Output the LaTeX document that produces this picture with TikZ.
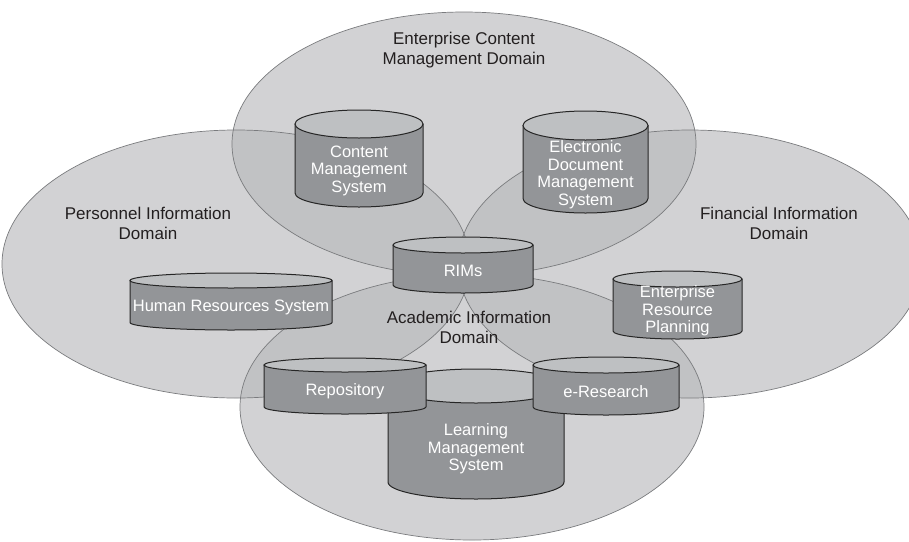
\documentclass[tikz,border=0pt]{standalone}
\usepackage{fontspec}
\setmainfont{Liberation Sans}

\definecolor{domainfill}{HTML}{B8B9BB}
\definecolor{domainline}{HTML}{7A7B7E}
\definecolor{dbbodyfill}{HTML}{939598}
\definecolor{dbcapfill}{HTML}{BEC0C2}
\definecolor{labeltext}{HTML}{231F20}

\tikzset{
  domainarea/.style={fill=domainfill, fill opacity=0.64},
  domainedge/.style={draw=domainline, line width=0.7pt},
  domainlabel/.style={align=center, text=labeltext, inner sep=0pt, font=\fontsize{17}{20}\selectfont},
  dbbody/.style={draw=black!85, fill=dbbodyfill, line width=1pt, line join=round},
  dbcap/.style={draw=black!85, fill=dbcapfill, line width=1pt},
  dbtext/.style={align=center, text=white, inner sep=0pt, font=\fontsize{16.5}{17.5}\selectfont}
}

% name, centre x, top y, width, height, cap radius, text
\newcommand{\dbsystem}[7]{%
  \filldraw[dbbody] ({#2-#4/2},{#3+#6}) -- ({#2-#4/2},{#3+#5-#6})
    arc[start angle=180, end angle=360, x radius={#4/2*1pt}, y radius={#6*1pt}]
    -- ({#2+#4/2},{#3+#6}) -- cycle;
  \filldraw[dbcap] (#2,{#3+#6}) ellipse [x radius={#4/2*1pt}, y radius={#6*1pt}];
  \node[dbtext] (#1) at (#2,{#3+#6+#5/2-2}) {#7};
}

\begin{document}
\begin{tikzpicture}[x=1pt, y=-1pt]
\useasboundingbox (0,0) rectangle (909,541);
% domains
\foreach \cx/\cy/\rx/\ry in {464/144/232/132, 236/264/234/134, 690/264/232/134, 472/407/232/133}
  \fill[domainarea] (\cx,\cy) ellipse [x radius=\rx pt, y radius=\ry pt];
\foreach \cx/\cy/\rx/\ry in {464/144/232/132, 236/264/234/134, 690/264/232/134, 472/407/232/133}
  \draw[domainedge] (\cx,\cy) ellipse [x radius=\rx pt, y radius=\ry pt];

\node[domainlabel] (ecmdomain) at (464,50) {Enterprise Content\\Management Domain};
\node[domainlabel] (pidomain) at (148,223) {Personnel Information\\Domain};
\node[domainlabel] (fidomain) at (779,223) {Financial Information\\Domain};
\node[domainlabel] (aidomain) at (469,327) {Academic Information\\Domain};

% systems
\dbsystem{cms}{359}{110}{128}{97}{14}{Content\\Management\\System}
\dbsystem{edms}{585.5}{111}{125}{102}{14.5}{Electronic\\Document\\Management\\System}
\dbsystem{rims}{463}{237}{140}{56}{8}{RIMs}
\dbsystem{hrs}{231}{273}{202}{57}{7.5}{Human Resources System}
\dbsystem{erp}{677.5}{271}{129}{68}{8}{Enterprise\\Resource\\Planning}
\dbsystem{lms}{476}{369}{176}{130}{17}{Learning\\Management\\System}
\dbsystem{repo}{345}{358}{162}{56}{7}{Repository}
\dbsystem{eres}{606}{357}{146}{58}{8}{e-Research}
\end{tikzpicture}
\end{document}
